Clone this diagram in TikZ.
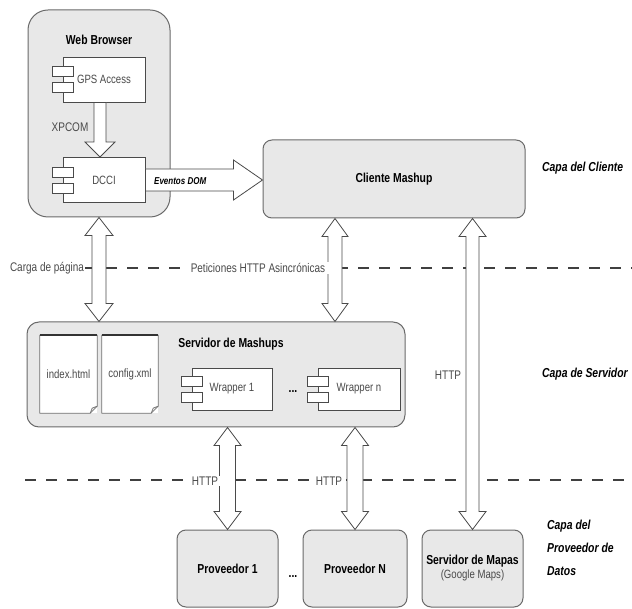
\documentclass[tikz,border=0pt]{standalone}
\usepackage{fontspec}
\setmainfont{Liberation Sans}[FakeStretch=0.8]
\usetikzlibrary{calc}

\definecolor{boxfill}{HTML}{E8E8E8}
\definecolor{boxline}{HTML}{6A6A6A}
\definecolor{inkline}{HTML}{4A4A4A}
\definecolor{softtext}{HTML}{4A4A4A}

% vertical double block arrow: shaft half width, head half width, head length, top, bottom
\newcommand\vdouble[5]{%
  \draw[blockarrow] (#4) -- ($(#4)+(#2,#3)$) -- ($(#4)+(#1,#3)$) -- ($(#5)+(#1,-#3)$)
    -- ($(#5)+(#2,-#3)$) -- (#5) -- ($(#5)+(-#2,-#3)$) -- ($(#5)+(-#1,-#3)$)
    -- ($(#4)+(-#1,#3)$) -- ($(#4)+(-#2,#3)$) -- cycle;}
% vertical single block arrow pointing down
\newcommand\vsingle[5]{%
  \draw[blockarrow] ($(#4)+(-#1,0)$) -- ($(#4)+(#1,0)$) -- ($(#5)+(#1,-#3)$)
    -- ($(#5)+(#2,-#3)$) -- (#5) -- ($(#5)+(-#2,-#3)$) -- ($(#5)+(-#1,-#3)$) -- cycle;}
% horizontal single block arrow pointing right
\newcommand\hsingle[5]{%
  \draw[blockarrow] ($(#4)+(0,-#1)$) -- ($(#5)+(-#3,-#1)$) -- ($(#5)+(-#3,-#2)$)
    -- (#5) -- ($(#5)+(-#3,#2)$) -- ($(#5)+(-#3,#1)$) -- ($(#4)+(0,#1)$) -- cycle;}
% the two tabs of a component symbol
\newcommand\comptabs[1]{%
  \draw[comptab] ($(#1.west)+(-10,-13)$) rectangle +(21,10);
  \draw[comptab] ($(#1.west)+(-10,3)$) rectangle +(21,10);}
% outline of a document page with a folded corner
\newcommand\docoutline[1]{%
  \draw[docside] (#1.north west) -- (#1.south west) -- ($(#1.south east)+(-7,0)$)
    -- ($(#1.south east)+(0,-7)$) -- (#1.north east);
  \draw[docside] ($(#1.south east)+(-7,0)$) -- ($(#1.south east)+(-5,-5)$) -- ($(#1.south east)+(0,-7)$);
  \draw[doctop] (#1.north west) -- (#1.north east);}

\tikzset{
  layerbox/.style={draw=boxline, fill=boxfill, line width=1pt, rounded corners=#1,
    inner sep=0pt, font=\bfseries\fontsize{13}{15}\selectfont, align=center},
  layerbox/.default=9pt,
  compbody/.style={draw=inkline, fill=white, line width=0.9pt, inner sep=0pt,
    font=\fontsize{12}{14}\selectfont, text=softtext},
  comptab/.style={draw=inkline, fill=white, line width=0.9pt},
  docpage/.style={fill=white, inner sep=0pt, font=\fontsize{12}{14}\selectfont, text=softtext},
  docside/.style={draw=black!55, line width=0.8pt, line join=round},
  doctop/.style={draw=black!80, line width=1.6pt},
  blockarrow/.style={draw=inkline, fill=white, line width=0.8pt, line join=miter},
  layerline/.style={draw=black!75, line width=1.1pt, dash pattern=on 11pt off 10pt},
  title/.style={font=\bfseries\fontsize{13}{15}\selectfont, inner sep=1pt},
  plain/.style={font=\fontsize{12.5}{15}\selectfont, text=softtext, inner sep=1pt},
  onwhite/.style={plain, fill=white, inner xsep=4pt},
  layername/.style={font=\bfseries\itshape\fontsize{13}{23}\selectfont, align=left,
    anchor=west, inner sep=0pt},
}

\begin{document}
\begin{tikzpicture}[x=1pt, y=-1pt]
\useasboundingbox (0,0) rectangle (632,609);

% client layer
\node[layerbox=20pt, minimum width=142pt, minimum height=207pt] (browser) at (99,113.5) {};
\node[title] (browsertitle) at (99,40) {Web Browser};
\node[compbody, minimum width=82pt, minimum height=45pt] (gps) at (104,79.5) {GPS Access};
\comptabs{gps}
\node[compbody, minimum width=82pt, minimum height=45pt] (dcci) at (104,180) {DCCI};
\comptabs{dcci}
\node[layerbox, minimum width=262pt, minimum height=78pt] (cliente) at (394,179) {Cliente Mashup};
\node[layername] (capacliente) at (542,168) {Capa del Cliente};

% server layer
\node[layerbox=12pt, minimum width=378pt, minimum height=105pt] (servidor) at (216,374.5) {};
\node[title] (servtitle) at (231,344) {Servidor de Mashups};
\node[docpage, minimum width=57pt, minimum height=78pt] (idx) at (68.5,374) {index.html};
\docoutline{idx}
\node[docpage, minimum width=56pt, minimum height=78pt] (cfg) at (130,374) {config.xml};
\docoutline{cfg}
\node[compbody, minimum width=80pt, minimum height=42pt] (wrap1) at (232,389) {Wrapper 1};
\comptabs{wrap1}
\node[compbody, minimum width=82pt, minimum height=42pt] (wrapn) at (359,389) {Wrapper n};
\comptabs{wrapn}
\node[title] (dots1) at (293,392) {...};
\node[layername] (capaserv) at (542,374) {Capa de Servidor};

% data provider layer
\node[layerbox, minimum width=101pt, minimum height=77pt] (prov1) at (227.5,568.5) {Proveedor 1};
\node[layerbox, minimum width=104pt, minimum height=77pt] (provN) at (355,568.5) {Proveedor N};
\node[layerbox, minimum width=101pt, minimum height=77pt] (mapas) at (472.5,568.5)
  {Servidor de Mapas\\[-1pt]{\mdseries\fontsize{12}{14}\selectfont\color{softtext}(Google Maps)}};
\node[title] (dots2) at (293,577) {...};
\node[layername] (capaprov) at (547,548) {Capa del\\Proveedor de\\Datos};

% layer separators
\draw[layerline] (85,268) -- (632,268);
\draw[layerline] (25,480) -- (632,480);

% block arrows
\vsingle{6}{15}{15}{gps.south -| 100,0}{dcci.north -| 100,0}
\hsingle{11}{20}{29}{dcci.east}{cliente.west |- dcci.east}
\vdouble{7}{14}{18}{browser.south}{servidor.north -| browser.south}
\vdouble{7}{13}{18}{cliente.south -| 335,0}{servidor.north -| 335,0}
\vdouble{6.5}{13.5}{18}{cliente.south -| mapas.north}{mapas.north}
\vdouble{8}{13.5}{18}{servidor.south -| prov1.north}{prov1.north}
\vdouble{8}{13.5}{18}{servidor.south -| provN.north}{provN.north}

% connector labels
\node[plain] (xpcom) at (70,127) {XPCOM};
\node[font=\bfseries\itshape\fontsize{10}{12}\selectfont, anchor=west, inner sep=0pt] (eventos) at (154,181) {Eventos DOM};
\node[plain] (carga) at (47,268) {Carga de página};
\node[onwhite] (peticiones) at (258,268) {Peticiones HTTP Asincrónicas};
\node[onwhite] (http1) at (205,481) {HTTP};
\node[onwhite] (http2) at (329,481) {HTTP};
\node[plain] (httpmap) at (448,375) {HTTP};
\end{tikzpicture}
\end{document}
